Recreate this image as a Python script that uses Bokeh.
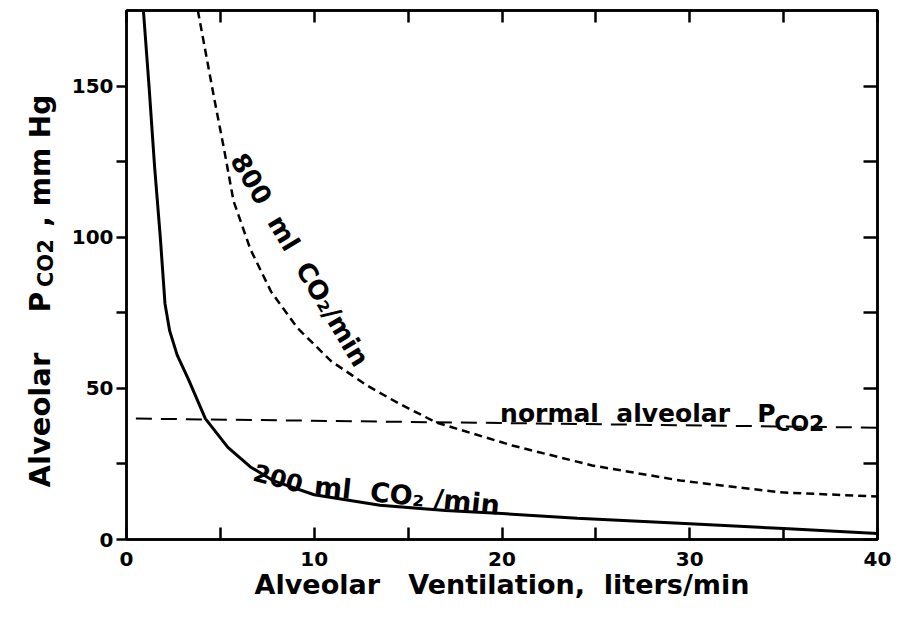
import math
from bokeh.plotting import figure
from bokeh.layouts import row
from bokeh.models import Range1d, LinearAxis, FixedTicker, Label
from bokeh.embed import file_html
from bokeh.resources import INLINE

# ---- data ----
vent_200 = [0.9, 1.2, 1.5, 1.8, 2.05, 2.3, 2.7, 3.3, 4.2, 5.4, 6.6, 7.8, 10.0, 13.5, 17.0, 20.0, 24.0, 30.0, 35.0, 40.0]
pco2_200 = [175, 150, 123, 100, 78, 69, 61, 53, 40, 30.5, 24, 19.5, 14.8, 11.3, 9.6, 8.6, 7.0, 5.2, 3.6, 2.0]

vent_800 = [3.8, 4.7, 5.2, 5.7, 6.6, 7.7, 9.1, 10.9, 12.8, 14.5, 16.5, 20.6, 24.8, 29.5, 34.8, 40.0]
pco2_800 = [175, 145, 129, 112, 96, 82, 70, 59, 51, 45, 38.7, 31, 24.5, 19.5, 15.6, 14.2]

normal_x = [0.5, 40.0]
normal_y = [40.0, 37.0]

x_ticks = [0, 5, 10, 15, 20, 25, 30, 35, 40]
x_tick_labels = {0: "0", 5: "", 10: "10", 15: "", 20: "20", 25: "", 30: "30", 35: "", 40: "40"}
y_ticks = [0, 25, 50, 75, 100, 125, 150]
y_tick_labels = {0: "0", 25: "", 50: "50", 75: "", 100: "100", 125: "", 150: "150"}

FONT = "DejaVu Sans"
NB = "\u00a0"

p = figure(x_range=Range1d(0, 40), y_range=Range1d(0, 175),
           frame_width=751, frame_height=529,
           min_border_left=66, min_border_right=22, min_border_top=10, min_border_bottom=81,
           output_backend="svg", toolbar_location=None)
p.xgrid.visible = False
p.ygrid.visible = False
p.outline_line_color = "black"
p.outline_line_width = 2.5
p.outline_line_alpha = 1.0
p.background_fill_color = "white"
p.border_fill_color = "white"

def style_axis(ax, ticks, overrides, tin, tout, labels=True):
    ax.ticker = FixedTicker(ticks=ticks)
    ax.major_label_overrides = overrides
    ax.major_tick_in = tin
    ax.major_tick_out = tout
    ax.major_tick_line_width = 2.5
    ax.major_tick_line_color = "black"
    ax.minor_tick_line_color = None
    ax.axis_line_width = 2.5
    ax.axis_line_color = "black"
    if labels:
        ax.major_label_text_font = FONT
        ax.major_label_text_font_style = "bold"
        ax.major_label_text_font_size = "20px"
        ax.major_label_text_color = "black"
    else:
        ax.major_label_text_font_size = "0px"
        ax.major_label_standoff = 0

xa = p.xaxis[0]
style_axis(xa, x_ticks, x_tick_labels, 12, 0)
xa.major_label_standoff = 12
xa.axis_label = "Alveolar" + NB + NB + NB + "Ventilation," + NB + NB + "liters/min"
xa.axis_label_text_font = FONT
xa.axis_label_text_font_style = "bold"
xa.axis_label_text_font_size = "27px"
xa.axis_label_text_color = "black"
xa.axis_label_standoff = 0

ya = p.yaxis[0]
style_axis(ya, y_ticks, y_tick_labels, 0, 10)
ya.major_label_standoff = 3

top = LinearAxis()
style_axis(top, x_ticks, {t: "" for t in x_ticks}, 12, 0, labels=False)
p.add_layout(top, "above")
right = LinearAxis()
style_axis(right, y_ticks, {t: "" for t in y_ticks}, 14, 0, labels=False)
p.add_layout(right, "right")

# ---- curves ----
p.line(vent_200, pco2_200, line_color="black", line_width=3)
p.line(vent_800, pco2_800, line_color="black", line_width=2.5, line_dash="8 5")
p.line(normal_x, normal_y, line_color="black", line_width=2, line_dash="16 9")

def lab(fig, x, y, text, size, angle=0.0, align="left", baseline="alphabetic"):
    fig.add_layout(Label(x=x, y=y, text=text, angle=angle, text_align=align,
                         text_baseline=baseline, text_font=FONT,
                         text_font_style="bold",
                         text_font_size=size, text_color="black"))

# curve labels
lab(p, 5.9, 127.0, "800" + NB + " ml" + NB + " CO\u2082/min", "26px", angle=-math.radians(59))
lab(p, 6.8, 22.5, "200", "24px", angle=-math.radians(15))
lab(p, 10.0, 17.8, "ml" + NB + " CO\u2082" + NB + "/min", "27px", angle=-math.radians(6))
lab(p, 19.9, 41.7, "normal" + NB + NB + "alveolar", "25px")
lab(p, 33.6, 41.7, "P", "25px")
lab(p, 34.5, 38.4, "CO2", "22px")

# ---- y-axis title in its own narrow strip, sharing the y range ----
yl = figure(x_range=Range1d(0, 60), y_range=p.y_range,
            frame_width=60, frame_height=529,
            min_border_left=0, min_border_right=0, min_border_top=10, min_border_bottom=81,
            x_axis_location=None, y_axis_location=None,
            output_backend="svg", toolbar_location=None)
yl.xgrid.visible = False
yl.ygrid.visible = False
yl.outline_line_color = None
yl.background_fill_color = "white"
yl.border_fill_color = "white"

lab(yl, 39.5, 17.2, "Alveolar", "29px", angle=math.pi / 2)
lab(yl, 39.5, 75.2, "P", "28px", angle=math.pi / 2)
lab(yl, 45.0, 83.5, "CO2", "21px", angle=math.pi / 2)
lab(yl, 39.5, 103.5, ", mm Hg", "28px", angle=math.pi / 2)

layout = row(yl, p, spacing=0)
open("out.html", "w").write(file_html(layout, INLINE))
